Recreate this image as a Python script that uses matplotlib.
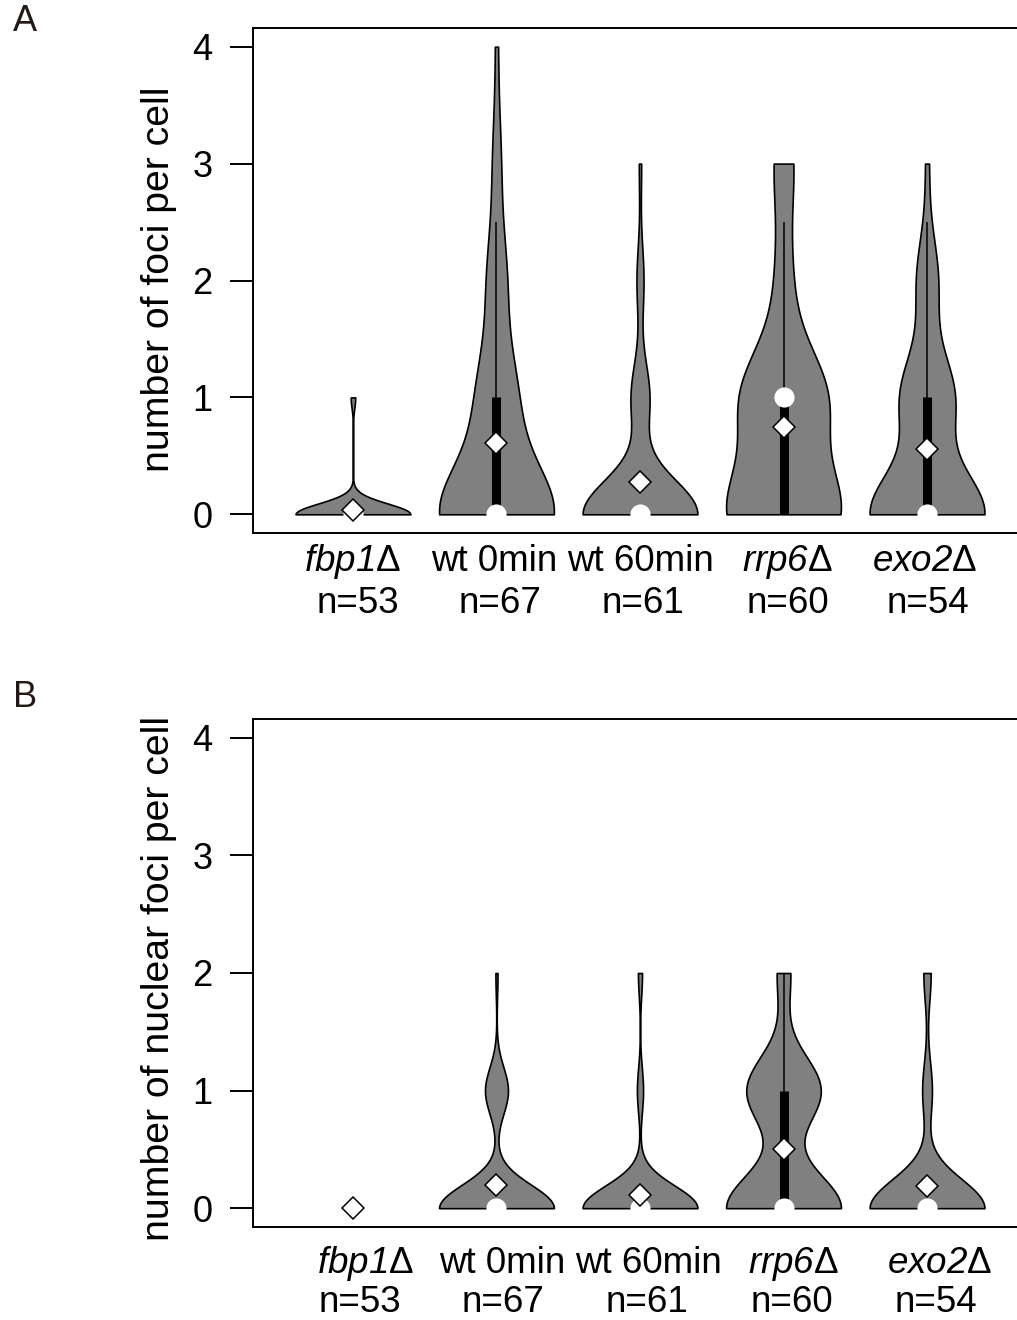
import matplotlib

matplotlib.use("Agg")

import matplotlib.pyplot as plt
import matplotlib.transforms as mtransforms
import numpy as np

plt.rcParams["font.family"] = ["Liberation Sans", "DejaVu Sans"]
# mathtext sends digits of \mathit to the rm font, so rm is italic here and
# the upright delta comes from the sf slot
plt.rcParams["mathtext.fontset"] = "custom"
plt.rcParams["mathtext.rm"] = "Liberation Sans:italic"
plt.rcParams["mathtext.it"] = "Liberation Sans:italic"
plt.rcParams["mathtext.sf"] = "Liberation Sans"
plt.rcParams["mathtext.bf"] = "Liberation Sans:bold"

# foci counts per cell: how many cells had 0, 1, 2, 3, 4 foci
LEVELS = [0, 1, 2, 3, 4]
GENOTYPES = [r"$\mathit{fbp1}\mathsf{\Delta}$", "wt 0min", "wt 60min",
             r"$\mathit{rrp6}\mathsf{\Delta}$", r"$\mathit{exo2}\mathsf{\Delta}$"]
FOCI_COUNTS = [
    [51, 2, 0, 0, 0],
    [42, 14, 7, 3, 1],
    [49, 8, 3, 1, 0],
    [29, 22, 4, 5, 0],
    [32, 15, 6, 1, 0],
]
NUCLEAR_COUNTS = [
    [53, 0, 0, 0, 0],
    [55, 11, 1, 0, 0],
    [56, 3, 2, 0, 0],
    [34, 22, 4, 0, 0],
    [47, 4, 3, 0, 0],
]
Y_TICKS = [0, 1, 2, 3, 4]

FIG_W, FIG_H = 1017, 1320
PX_PER_UNIT = 143.5  # x data unit in pixels


def expand(counts):
    return np.repeat(LEVELS, counts).astype(float)


def hnorm(kde):
    # normal-optimal bandwidth factor, as sm.density uses
    return (4.0 / (3.0 * kde.num_dp)) ** 0.2


def draw_panel(ax, counts_list, ylabel, label_y_px, ylabel_y_px, off1_px, off2_px, panel_letter, letter_y_px):
    fig = ax.figure
    data = [expand(c) for c in counts_list]
    positions = np.arange(1, len(data) + 1)

    keep = [i for i, d in enumerate(data) if np.ptp(d) > 0]
    parts = ax.violinplot(
        [data[i] for i in keep],
        positions=[positions[i] for i in keep],
        widths=0.8,
        showextrema=False,
        bw_method=hnorm,
        points=600,
    )
    for body in parts["bodies"]:
        body.set_facecolor("#808080")
        body.set_edgecolor("black")
        body.set_linewidth(1.2)
        body.set_alpha(1.0)
        body.set_zorder(2)

    for pos, d in zip(positions, data):
        q1, med, q3 = np.percentile(d, [25, 50, 75])
        iqr = q3 - q1
        upper = min(d.max(), q3 + 1.5 * iqr)
        lower = max(d.min(), q1 - 1.5 * iqr)
        if upper > lower:
            ax.plot([pos, pos], [lower, upper], color="black", lw=1.1, zorder=3, solid_capstyle="butt")
        if q3 > q1:
            ax.plot([pos, pos], [q1, q3], color="black", lw=6.5, zorder=4, solid_capstyle="butt")
        ax.plot(pos, med, "o", ms=14.5, mfc="white", mec="none", zorder=5)
        ax.plot(pos, d.mean(), "D", ms=11, mfc="white", mec="black", mew=1.1, zorder=6)

    ax.set_xlim(0.3, 5.7)
    ax.set_ylim(-0.16, 4.16)
    ax.set_xticks([])
    ax.set_yticks(Y_TICKS)
    ax.tick_params(axis="y", length=16.6, width=1.4, pad=12.2, labelsize=26, direction="out")
    for spine in ax.spines.values():
        spine.set_linewidth(1.4)

    trans = mtransforms.blended_transform_factory(ax.transData, fig.transFigure)
    for i, (pos, name, counts) in enumerate(zip(positions, GENOTYPES, counts_list)):
        ax.text(pos + off1_px[i] / PX_PER_UNIT, 1 - label_y_px[0] / FIG_H, name,
                transform=trans, ha="center", va="baseline", fontsize=26.5, clip_on=False)
        ax.text(pos + off2_px[i] / PX_PER_UNIT, 1 - label_y_px[1] / FIG_H, f"n={sum(counts)}",
                transform=trans, ha="center", va="baseline", fontsize=26.5, clip_on=False)

    fig.text(159 / FIG_W, 1 - ylabel_y_px / FIG_H, ylabel, rotation=90,
             ha="center", va="center", fontsize=28.3)
    fig.text(25 / FIG_W, 1 - letter_y_px / FIG_H, panel_letter, ha="center", va="center",
             fontsize=26, color="#231815")


def main():
    fig = plt.figure(figsize=(FIG_W / 100, FIG_H / 100), dpi=100)
    ax_a = fig.add_axes([252.5 / FIG_W, 1 - 533 / FIG_H, 775 / FIG_W, 505 / FIG_H])
    ax_b = fig.add_axes([252.5 / FIG_W, 1 - 1227 / FIG_H, 775 / FIG_W, 508 / FIG_H])

    draw_panel(ax_a, FOCI_COUNTS, "number of foci per cell", (571, 613), 279,
               [0, -2, 0, 4, -2], [5, 4, 3, 4, 1], "A", 21.5)
    draw_panel(ax_b, NUCLEAR_COUNTS, "number of nuclear foci per cell", (1273, 1312), 978,
               [13, 6, 8, 10, 13], [7, 7, 7, 8, 9], "B", 697.5)

    fig.savefig("out.png", dpi=100)
    plt.close(fig)


if __name__ == "__main__":
    main()
